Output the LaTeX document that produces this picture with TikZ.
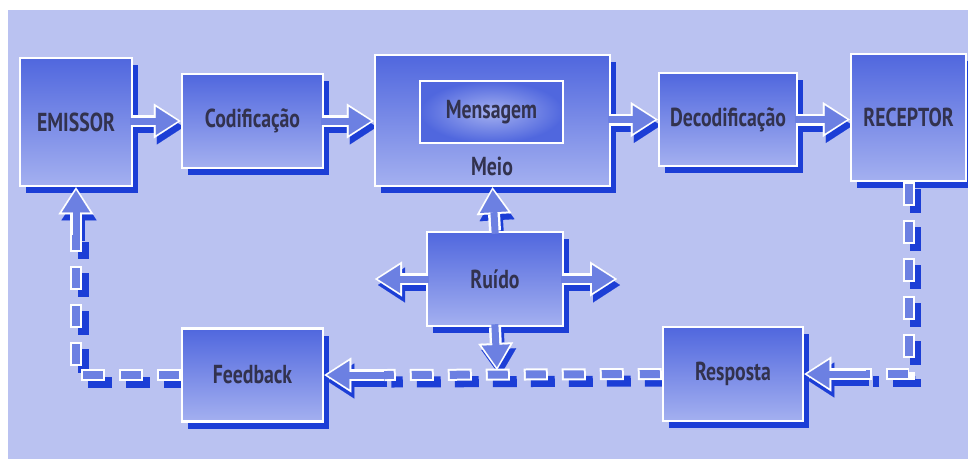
\documentclass[tikz,border=0pt]{standalone}
\usepackage{fontspec}
\setmainfont{PT Sans}[FakeStretch=0.76]
\usetikzlibrary{positioning,arrows.meta,shadows,calc}
\definecolor{bgblue}{RGB}{186,194,241}
\definecolor{boxtop}{RGB}{80,103,222}
\definecolor{boxbot}{RGB}{164,176,240}
\definecolor{shadowblue}{RGB}{28,62,214}
\definecolor{arrowblue}{RGB}{108,128,226}
\definecolor{txtgray}{RGB}{50,50,78}
\pgfdeclarelayer{back}
\pgfdeclarelayer{bg}
\pgfsetlayers{back,bg,main}

\begin{document}
\begin{tikzpicture}[x=1pt,y=-1pt,
box/.style={draw=white,line width=2.5pt,top color=boxtop,bottom color=boxbot,
  drop shadow={shadow xshift=6pt,shadow yshift=-7pt,fill=shadowblue,opacity=1},
  text=txtgray,font=\fontsize{26}{28}\selectfont\bfseries,inner sep=0pt},
msgbox/.style={draw=white,line width=2pt,inner color=boxbot,outer color=boxtop,
  text=txtgray,font=\fontsize{26}{28}\selectfont\bfseries,minimum width=143pt,minimum height=62pt},
lbl/.style={text=txtgray,font=\fontsize{26}{28}\selectfont\bfseries},
arrsh/.style={draw=shadowblue,line width=12pt,
  transform canvas={xshift=3pt,yshift=-6pt},-{Triangle[length=27pt,width=35pt,line width=0.1pt]}},
arrwh/.style={draw=white,line width=12pt,-{Triangle[length=27pt,width=35pt,line width=0.1pt]}},
arrfl/.style={draw=arrowblue,line width=7pt,shorten >=3pt,shorten <=-3pt,
  -{Triangle[length=22pt,width=28pt,line width=0.1pt]}},
dsh/.style={draw=shadowblue,line width=11pt,dash pattern=on 24pt off 14pt,
  transform canvas={xshift=7pt,yshift=-7pt}},
dwh/.style={draw=white,line width=12pt,dash pattern=on 24pt off 14pt},
dfl/.style={draw=arrowblue,line width=8pt,dash pattern=on 0pt off 2pt on 20pt off 16pt}]

\useasboundingbox (0,0) rectangle (968,459);
\begin{pgfonlayer}{back}
\fill[white] (0,0) rectangle (968,459);
\fill[bgblue] (8,10) rectangle (968,459);
\end{pgfonlayer}

% boxes
\node[box,minimum width=112pt,minimum height=128pt] (emissor) at (76,122) {EMISSOR};
\node[box,minimum width=141pt,minimum height=94pt] (codif) at (252.5,121) {Codificação};
\node[box,minimum width=235pt,minimum height=131pt] (meio) at (492.5,120.5) {};
\node[msgbox] (mensagem) at (491.5,112) {Mensagem};
\node[lbl] (meiolbl) at (492,166) {Meio};
\node[box,minimum width=138pt,minimum height=93pt] (decod) at (728,119.5) {Decodificação};
\node[box,minimum width=115pt,minimum height=127pt] (receptor) at (908.5,117.5) {RECEPTOR};
\node[box,minimum width=136pt,minimum height=94pt] (ruido) at (495,279) {Ruído};
\node[box,minimum width=141pt,minimum height=93pt] (feedback) at (252.5,375) {Feedback};
\node[box,minimum width=140pt,minimum height=94pt] (resposta) at (733,374) {Resposta};

\coordinate (ruidoL) at (375,279);
\coordinate (ruidoR) at (617,279);
\coordinate (ruidoD) at (497,370);
\coordinate (rsp) at ($(resposta.east)+(62,0)$);
\coordinate (fbk) at ($(feedback.east)+(60,0)$);
\coordinate (emi) at ($(emissor.south)+(0,48)$);

% shadows of the connectors
\begin{pgfonlayer}{bg}
\draw[dsh] (receptor.south) |- (rsp);
\draw[dsh] (resposta.west) -- (fbk);
\draw[dsh] (feedback.west) -| (emi);
\foreach \a/\b in {emissor.east |- codif/codif.west, codif.east/codif.east -| meio.west,
  meio.east |- decod/decod.west, decod.east/decod.east -| receptor.west,
  ruido.north/meio.south, ruido.west/ruidoL, ruido.east/ruidoR, ruido.south/ruidoD,
  rsp/resposta.east, fbk/feedback.east, emi/emissor.south}
  \draw[arrsh] (\a) -- (\b);
\end{pgfonlayer}

% feedback loop
\draw[dwh] (receptor.south) |- (rsp);
\draw[dfl] (receptor.south) |- (rsp);
\draw[dwh] (resposta.west) -- (fbk);
\draw[dfl] (resposta.west) -- (fbk);
\draw[dwh] (feedback.west) -| (emi);
\draw[dfl] (feedback.west) -| (emi);

% block arrows
\foreach \a/\b in {emissor.east |- codif/codif.west, codif.east/codif.east -| meio.west,
  meio.east |- decod/decod.west, decod.east/decod.east -| receptor.west,
  ruido.north/meio.south, ruido.west/ruidoL, ruido.east/ruidoR, ruido.south/ruidoD,
  rsp/resposta.east, fbk/feedback.east, emi/emissor.south}
  {\draw[arrwh] (\a) -- (\b);
   \draw[arrfl] (\a) -- (\b);}
\end{tikzpicture}
\end{document}
